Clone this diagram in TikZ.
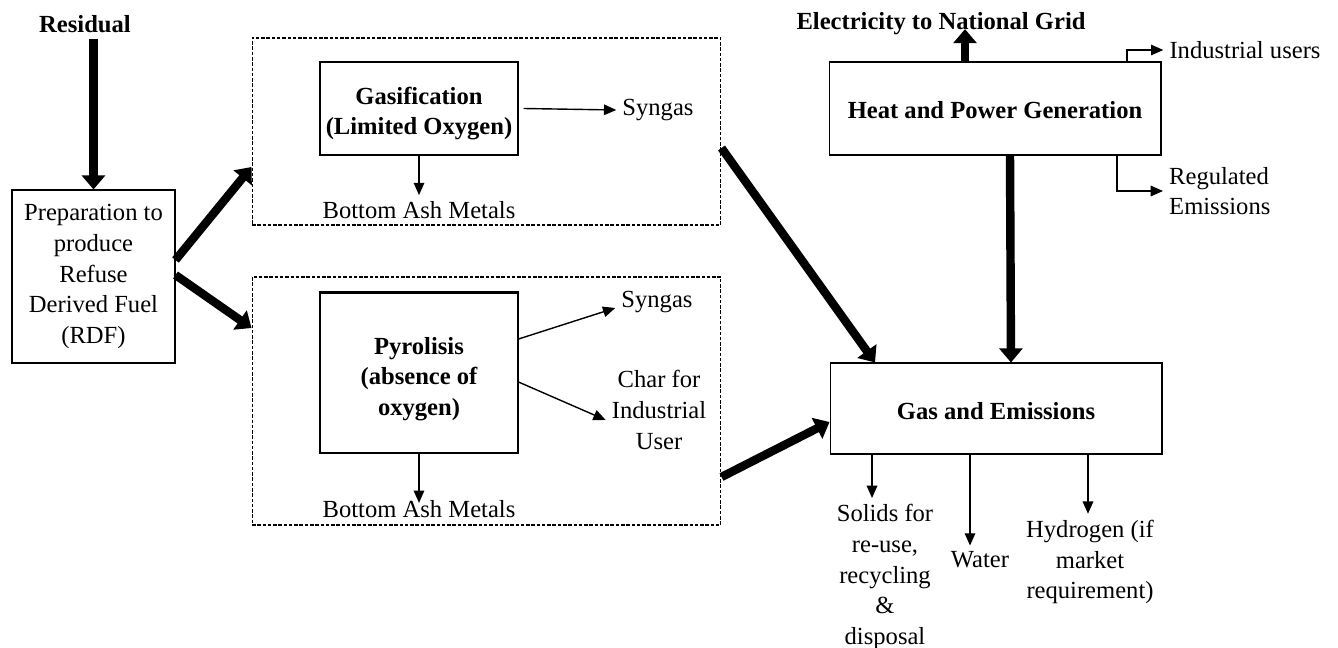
\documentclass[tikz,border=0pt]{standalone}
\usepackage{fontspec}
\setmainfont{Liberation Serif}
\usetikzlibrary{arrows.meta}
\begin{document}
\begin{tikzpicture}[x=0.02cm,y=-0.02cm,
  every node/.style={font=\fontsize{14}{17.5}\selectfont},
  procbox/.style={draw,line width=0.6pt,inner sep=0pt},
  groupbox/.style={draw,line width=0.6pt,dash pattern=on 2pt off 1pt,inner sep=0pt},
  lbl/.style={align=center},
  boldlbl/.style={align=center,font=\fontsize{14}{17.5}\selectfont\bfseries},
  heavy/.style={line width=4.8pt,-{Triangle[length=8pt,width=13pt]}},
  light/.style={line width=0.8pt,-{Triangle[length=7pt,width=6pt]}}]
\useasboundingbox (0,0) rectangle (1338,648);

% input and preparation
\node[boldlbl] (res) at (85,24) {Residual};
\node[procbox,minimum width=3.26cm,minimum height=3.46cm] (rdf) at (93.5,276.5) {};
\node[lbl] (rdf-t) at (rdf.center) {Preparation to\\produce\\Refuse\\Derived Fuel\\(RDF)};

% gasification group
\node[groupbox,minimum width=9.38cm,minimum height=3.74cm] (ggrp) at (486.5,131.5) {};
\node[procbox,minimum width=3.96cm,minimum height=1.86cm] (gasif) at (419,108.5) {};
\node[boldlbl] (gasif-t) at ([yshift=-0.1cm]gasif.center) {Gasification\\(Limited Oxygen)};
\node[lbl] (syn1) at (658,110) {Syngas};
\node[lbl] (bam1) at (419,210) {Bottom Ash Metals};

% pyrolysis group
\node[groupbox,minimum width=9.38cm,minimum height=4.96cm] (pgrp) at (486.5,401) {};
\node[procbox,minimum width=3.96cm,minimum height=3.2cm] (pyro) at (419,373) {};
\draw[line width=1.3pt] (pyro.north west) -- (pyro.north east);
\node[boldlbl] (pyro-t) at ([yshift=-0.12cm]pyro.center) {Pyrolisis\\(absence of\\oxygen)};
\node[lbl] (syn2) at (657,302) {Syngas};
\node[lbl] (char) at (659,410) {Char for\\Industrial\\User};
\node[lbl] (bam2) at (419,509) {Bottom Ash Metals};

% heat and power generation
\node[procbox,minimum width=6.64cm,minimum height=1.86cm] (hpg) at (995,108.5) {};
\node[boldlbl] (hpg-t) at ([yshift=-0.04cm]hpg.center) {Heat and Power Generation};
\node[boldlbl] (elec) at (941,24) {Electricity to National Grid};
\node[lbl] (iu) at (1245,50) {Industrial users};
\node[lbl,anchor=west,align=left] (reg) at (1163,191) {Regulated\\Emissions};

% gas and emissions
\node[procbox,minimum width=6.64cm,minimum height=1.82cm] (gas) at (996,408.5) {};
\node[boldlbl] (gas-t) at ([yshift=-0.05cm]gas.center) {Gas and Emissions};
\node[lbl] (solids) at (885,577) {Solids for\\re-use,\\recycling\\\&\\disposal};
\node[lbl] (water) at (980,560) {Water};
\node[lbl] (hyd) at (1090,562) {Hydrogen (if\\market\\requirement)};

% heavy flows
\draw[heavy] (rdf.north |- res.south) -- (rdf.north);
\draw[heavy] ([yshift=0.33cm]rdf.east) -- ([yshift=-0.71cm]ggrp.west);
\draw[heavy] ([yshift=0.03cm]rdf.east) -- ([yshift=1.46cm]pgrp.west);
\draw[heavy] ([yshift=-0.33cm]ggrp.east) -- ([xshift=-2.42cm]gas.north);
\draw[heavy] ([yshift=-1.52cm]pgrp.east) -- ([yshift=-0.27cm]gas.west);
\draw[heavy] ([xshift=0.3cm]hpg.south) -- ([xshift=0.3cm]gas.north);
\coordinate (e0) at ([xshift=-0.6cm]hpg.north);
\draw[heavy,shorten >=-7pt] (e0) -- (e0 |- elec.south);

% light flows
\draw[light] ([xshift=0.1cm]gasif.east) -- (syn1.west);
\draw[light] (gasif.south) -- (gasif.south |- bam1.north);
\draw[light] ([yshift=0.68cm]pyro.east) -- ([yshift=-0.12cm]syn2.west);
\draw[light] ([yshift=-0.18cm]pyro.east) -- ([yshift=-0.2cm]char.west);
\draw[light,shorten >=-5pt] (pyro.south) -- (pyro.south |- bam2.north);
\draw[light] ([xshift=2.64cm]hpg.north) |- (iu.west);
\draw[light] ([xshift=2.44cm]hpg.south) |- (reg.west);
\coordinate (g1) at ([xshift=-2.48cm]gas.south);
\coordinate (g2) at ([xshift=-0.52cm]gas.south);
\coordinate (g3) at ([xshift=1.84cm]gas.south);
\draw[light] (g1) -- (g1 |- solids.north);
\draw[light] (g2) -- (g2 |- water.north);
\draw[light] (g3) -- (g3 |- hyd.north);
\end{tikzpicture}
\end{document}
